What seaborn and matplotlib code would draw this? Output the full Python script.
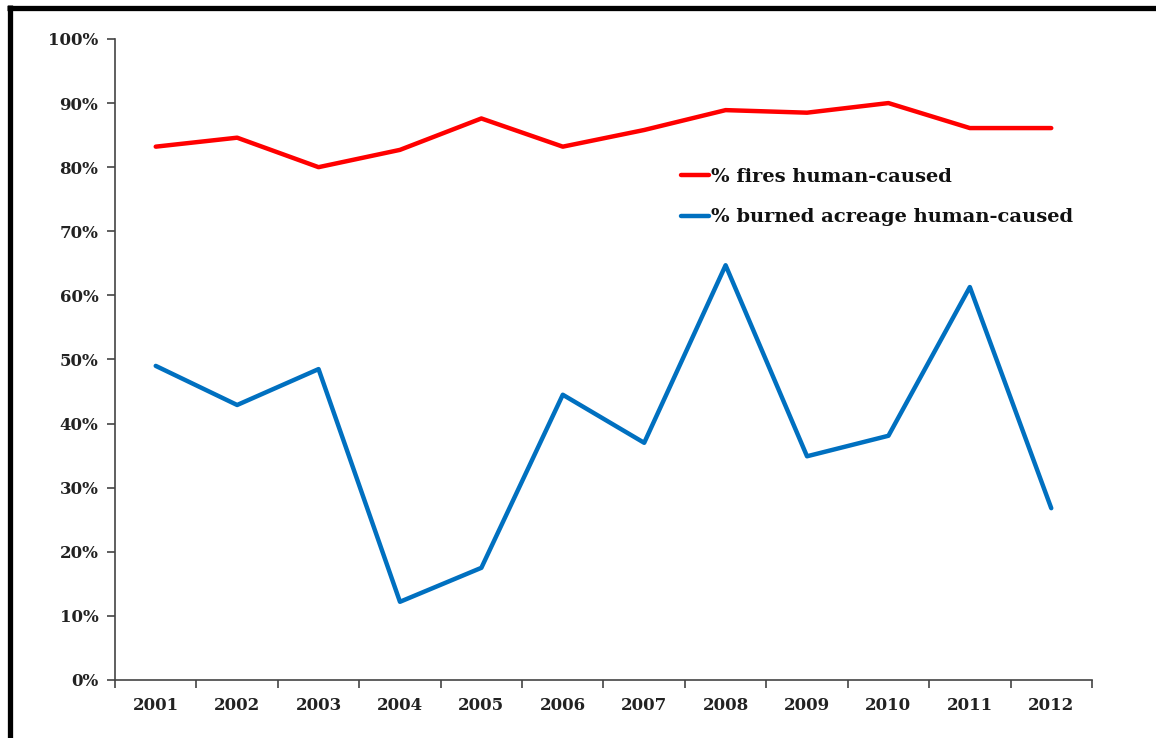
import matplotlib
matplotlib.use("Agg")
import matplotlib.pyplot as plt
import seaborn as sns
import pandas as pd
from matplotlib.lines import Line2D
from matplotlib.ticker import FixedLocator, PercentFormatter

years = ["2001", "2002", "2003", "2004", "2005", "2006", "2007", "2008", "2009", "2010", "2011", "2012"]
fires_human = [83.2, 84.6, 80.0, 82.7, 87.6, 83.2, 85.8, 88.9, 88.5, 90.0, 86.1, 86.1]
acreage_human = [49.0, 42.9, 48.5, 12.2, 17.5, 44.5, 37.0, 64.7, 34.9, 38.1, 61.3, 26.8]
series_names = ["% fires human-caused", "% burned acreage human-caused"]
colors = ["#FF0000", "#0070C0"]

df = pd.DataFrame({
    "year": years * 2,
    "value": fires_human + acreage_human,
    "series": [series_names[0]] * len(years) + [series_names[1]] * len(years),
})
df["pos"] = [years.index(y) for y in df["year"]]

sns.set_theme(style="white")
plt.rcParams["font.family"] = ["DejaVu Serif"]

fig = plt.figure(figsize=(11.56, 7.38), dpi=100)
ax = fig.add_axes([0.0995, 0.0786, 0.8451, 0.8686])

sns.lineplot(data=df, x="pos", y="value", hue="series", palette=colors,
             linewidth=3.2, ax=ax, legend=True, sort=False)

ax.set_xlim(-0.5, len(years) - 0.5)
ax.set_ylim(0, 100)
ax.set_xlabel("")
ax.set_ylabel("")

ax.set_xticks(range(len(years)))
ax.set_xticklabels(years, fontsize=12, fontweight="bold", color="#222222")
ax.xaxis.set_minor_locator(FixedLocator([i - 0.5 for i in range(len(years) + 1)]))
ax.tick_params(axis="x", which="major", length=0, pad=12)
ax.tick_params(axis="x", which="minor", length=6, width=1.2, color="#444444", direction="out", bottom=True)

ax.set_yticks(range(0, 101, 10))
ax.yaxis.set_major_formatter(PercentFormatter(decimals=0))
ax.tick_params(axis="y", which="major", length=6, width=1.2, color="#444444", direction="out", left=True, pad=6)
for lbl in ax.get_yticklabels():
    lbl.set_fontsize(12)
    lbl.set_fontweight("bold")
    lbl.set_color("#222222")

for side in ["top", "right"]:
    ax.spines[side].set_visible(False)
for side in ["left", "bottom"]:
    ax.spines[side].set_color("#444444")
    ax.spines[side].set_linewidth(1.2)

leg = ax.legend(loc="upper left", bbox_to_anchor=(0.561, 0.826), frameon=False,
                handlelength=1.45, handletextpad=0.1, labelspacing=1.15,
                prop={"family": "DejaVu Serif", "weight": "bold", "size": 14})
for t in leg.get_texts():
    t.set_color("#111111")

# outer frame lines (top and left)
fig.add_artist(Line2D([7 / 1156, 1.0], [1 - 7.5 / 738, 1 - 7.5 / 738],
                      transform=fig.transFigure, color="black", linewidth=3.8, solid_capstyle="butt"))
fig.add_artist(Line2D([9.5 / 1156, 9.5 / 1156], [0.0, 1 - 5 / 738],
                      transform=fig.transFigure, color="black", linewidth=3.8, solid_capstyle="butt"))

fig.savefig("out.png", dpi=100)
